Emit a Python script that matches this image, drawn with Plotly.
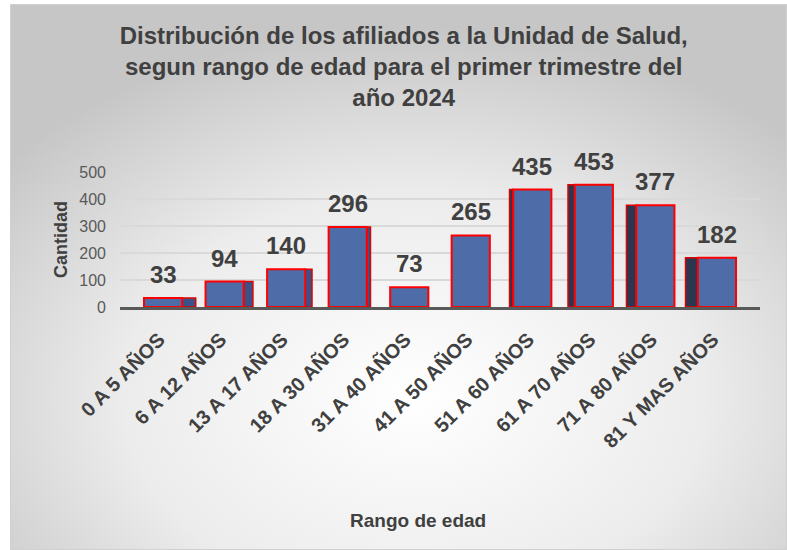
import base64
import plotly.graph_objects as go

categories = ["0 A 5 AÑOS", "6 A 12 AÑOS", "13 A 17 AÑOS", "18 A 30 AÑOS", "31 A 40 AÑOS",
              "41 A 50 AÑOS", "51 A 60 AÑOS", "61 A 70 AÑOS", "71 A 80 AÑOS", "81 Y MAS AÑOS"]
cantidad = [33, 94, 140, 296, 73, 265, 435, 453, 377, 182]
y_ticks = [0, 100, 200, 300, 400, 500]

title_text = ("Distribución de los afiliados a la Unidad de Salud,<br>"
              "segun rango de edad para el primer trimestre del<br>año 2024")
x_title = "Rango de edad"
y_title = "Cantidad"

svg = """<svg xmlns='http://www.w3.org/2000/svg' width='777' height='546' preserveAspectRatio='none'>
<defs><radialGradient id='g' cx='52%' cy='72%' r='68%' fx='52%' fy='72%'>
<stop offset='0%' stop-color='#ffffff'/>
<stop offset='55%' stop-color='#ececec'/>
<stop offset='100%' stop-color='#c6c6c6'/>
</radialGradient></defs>
<rect x='0' y='0' width='777' height='546' fill='url(#g)' stroke='#d0d0d0' stroke-width='2'/>
</svg>"""
bg_src = "data:image/svg+xml;base64," + base64.b64encode(svg.encode()).decode()

W, H = 787, 550
L, R, T, B = 120, 27, 172, 243
pw = W - L - R
ph = H - T - B

FONT = "Liberation Sans, Arial, sans-serif"
TXT = "#404040"
BAR_W = 0.62

# side faces for a pseudo-3D look (perspective: right faces on the left, left faces on the right)
n = len(categories)
side_w = [0.22, 0.15, 0.11, 0.06, 0.0, 0.0, 0.06, 0.11, 0.16, 0.2]
side_off = [BAR_W / 2 if i < n / 2 else -BAR_W / 2 - side_w[i] for i in range(n)]
side_col = ["#3a5288" if i < n / 2 else "#2b3650" for i in range(n)]

fig = go.Figure()
fig.add_trace(go.Bar(
    x=categories, y=cantidad,
    width=side_w, offset=side_off,
    marker=dict(color=side_col, line=dict(color="#e00000", width=1.5)),
    hoverinfo="skip",
))
fig.add_trace(go.Bar(
    x=categories, y=cantidad,
    width=BAR_W, offset=-BAR_W / 2,
    marker=dict(color="#4e6ca8", line=dict(color="#ff0000", width=2)),
    hoverinfo="skip",
))

annotations = [
    dict(x=c, y=v, xref="x", yref="y", text="<b>%d</b>" % v, showarrow=False,
         yanchor="bottom", yshift=8, font=dict(family=FONT, size=24, color=TXT))
    for c, v in zip(categories, cantidad)
]
annotations.append(dict(
    x=(418 - L) / pw, y=(H - B - 520) / ph, xref="paper", yref="paper",
    text="<b>" + x_title + "</b>", showarrow=False, xanchor="center", yanchor="middle",
    font=dict(family=FONT, size=19, color=TXT)))

fig.update_layout(
    width=W, height=H,
    barmode="overlay",
    margin=dict(l=L, r=R, t=T, b=B, autoexpand=False),
    paper_bgcolor="white",
    plot_bgcolor="rgba(0,0,0,0)",
    showlegend=False,
    annotations=annotations,
    title=dict(text="<b>" + title_text + "</b>", x=0.513, xanchor="center", xref="container",
               y=0.92, yanchor="top", yref="container",
               font=dict(family=FONT, size=24, color=TXT)),
    images=[dict(source=bg_src, xref="paper", yref="paper",
                 x=(10 - L) / pw, y=(H - B - 4) / ph,
                 sizex=(W - 10) / pw, sizey=(H - 4) / ph,
                 xanchor="left", yanchor="top", sizing="stretch", layer="below")],
    xaxis=dict(
        range=[-0.7, 9.7],
        tickangle=-45,
        tickfont=dict(family=FONT, size=20, color=TXT),
        tickprefix="<b>", ticksuffix="</b>",
        ticklabelshift=-4, ticklabelstandoff=10,
        showgrid=False, showline=True, linecolor="#595959", linewidth=3,
        ticks="", automargin=False,
    ),
    yaxis=dict(
        range=[0, 500],
        tickvals=y_ticks,
        tickfont=dict(family=FONT, size=16, color="#595959"),
        showgrid=True, gridcolor="#d9d9d9", gridwidth=1.5,
        zeroline=False, showline=False, ticks="", ticklabelstandoff=13,
        automargin=False,
        title=dict(text="<b>" + y_title + "</b>", standoff=6,
                   font=dict(family=FONT, size=18, color=TXT)),
    ),
)
fig.write_html("out.html", config={"displayModeBar": False},
               post_script="document.body.style.margin='0';document.body.style.overflow='hidden';")
